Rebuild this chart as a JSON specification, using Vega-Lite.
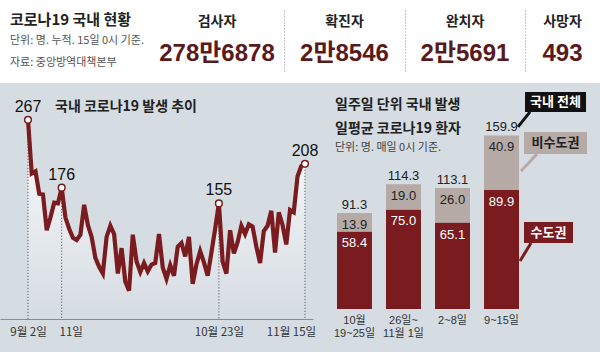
{
  "$schema": "https://vega.github.io/schema/vega-lite/v6.json",
  "background": "#d5dce2",
  "padding": {"left": 0, "top": 0, "right": 0, "bottom": 20},
  "spacing": 0,
  "config": {
    "view": {"stroke": null},
    "font": "Noto Sans CJK KR",
    "text": {"font": "Noto Sans CJK KR"},
    "axis": {"grid": false}
  },
  "datasets": {
    "stats": [
      {"stat": "검사자", "value": "278만6878"},
      {"stat": "확진자", "value": "2만8546"},
      {"stat": "완치자", "value": "2만5691"},
      {"stat": "사망자", "value": "493"}
    ],
    "daily": [
      {"date": "2020-09-02", "cases": 267}, {"date": "2020-09-03", "cases": 195}, {"date": "2020-09-04", "cases": 198},
      {"date": "2020-09-05", "cases": 168}, {"date": "2020-09-06", "cases": 167}, {"date": "2020-09-07", "cases": 119},
      {"date": "2020-09-08", "cases": 136}, {"date": "2020-09-09", "cases": 156}, {"date": "2020-09-10", "cases": 155},
      {"date": "2020-09-11", "cases": 176}, {"date": "2020-09-12", "cases": 136}, {"date": "2020-09-13", "cases": 121},
      {"date": "2020-09-14", "cases": 109}, {"date": "2020-09-15", "cases": 106}, {"date": "2020-09-16", "cases": 113},
      {"date": "2020-09-17", "cases": 153}, {"date": "2020-09-18", "cases": 126}, {"date": "2020-09-19", "cases": 110},
      {"date": "2020-09-20", "cases": 82}, {"date": "2020-09-21", "cases": 70}, {"date": "2020-09-22", "cases": 61},
      {"date": "2020-09-23", "cases": 110}, {"date": "2020-09-24", "cases": 125}, {"date": "2020-09-25", "cases": 114},
      {"date": "2020-09-26", "cases": 61}, {"date": "2020-09-27", "cases": 95}, {"date": "2020-09-28", "cases": 50},
      {"date": "2020-09-29", "cases": 38}, {"date": "2020-09-30", "cases": 113}, {"date": "2020-10-01", "cases": 77},
      {"date": "2020-10-02", "cases": 63}, {"date": "2020-10-03", "cases": 75}, {"date": "2020-10-04", "cases": 64},
      {"date": "2020-10-05", "cases": 73}, {"date": "2020-10-06", "cases": 75}, {"date": "2020-10-07", "cases": 114},
      {"date": "2020-10-08", "cases": 69}, {"date": "2020-10-09", "cases": 54}, {"date": "2020-10-10", "cases": 72},
      {"date": "2020-10-11", "cases": 58}, {"date": "2020-10-12", "cases": 97}, {"date": "2020-10-13", "cases": 102},
      {"date": "2020-10-14", "cases": 84}, {"date": "2020-10-15", "cases": 110}, {"date": "2020-10-16", "cases": 47},
      {"date": "2020-10-17", "cases": 73}, {"date": "2020-10-18", "cases": 91}, {"date": "2020-10-19", "cases": 76},
      {"date": "2020-10-20", "cases": 58}, {"date": "2020-10-21", "cases": 89}, {"date": "2020-10-22", "cases": 121},
      {"date": "2020-10-23", "cases": 155}, {"date": "2020-10-24", "cases": 77}, {"date": "2020-10-25", "cases": 61},
      {"date": "2020-10-26", "cases": 119}, {"date": "2020-10-27", "cases": 88}, {"date": "2020-10-28", "cases": 103},
      {"date": "2020-10-29", "cases": 125}, {"date": "2020-10-30", "cases": 114}, {"date": "2020-10-31", "cases": 127},
      {"date": "2020-11-01", "cases": 124}, {"date": "2020-11-02", "cases": 97}, {"date": "2020-11-03", "cases": 75},
      {"date": "2020-11-04", "cases": 118}, {"date": "2020-11-05", "cases": 125}, {"date": "2020-11-06", "cases": 145},
      {"date": "2020-11-07", "cases": 89}, {"date": "2020-11-08", "cases": 143}, {"date": "2020-11-09", "cases": 126},
      {"date": "2020-11-10", "cases": 100}, {"date": "2020-11-11", "cases": 146}, {"date": "2020-11-12", "cases": 143},
      {"date": "2020-11-13", "cases": 191}, {"date": "2020-11-14", "cases": 205}, {"date": "2020-11-15", "cases": 208}
    ],
    "weekly": [
      {"week": "10월 19~25일", "region": "수도권", "value": 58.4, "total": 91.3},
      {"week": "10월 19~25일", "region": "비수도권", "value": 13.9, "total": 91.3},
      {"week": "26일~11월 1일", "region": "수도권", "value": 75.0, "total": 114.3},
      {"week": "26일~11월 1일", "region": "비수도권", "value": 19.0, "total": 114.3},
      {"week": "2~8일", "region": "수도권", "value": 65.1, "total": 113.1},
      {"week": "2~8일", "region": "비수도권", "value": 26.0, "total": 113.1},
      {"week": "9~15일", "region": "수도권", "value": 89.9, "total": 159.9},
      {"week": "9~15일", "region": "비수도권", "value": 40.9, "total": 159.9}
    ]
  },
  "vconcat": [
    {
      "spacing": 0,
      "hconcat": [
        {
          "width": 150, "height": 83,
          "view": {"fill": "#ffffff", "stroke": null},
          "data": {"values": []},
          "mark": "text",
          "title": {
            "text": "코로나19 국내 현황",
            "subtitle": ["단위: 명. 누적. 15일 0시 기준.", "자료: 중앙방역대책본부"],
            "anchor": "start", "frame": "group", "dx": 10, "offset": -68,
            "font": "Noto Sans CJK KR", "fontSize": 15, "fontWeight": "bold", "color": "#222222",
            "subtitleFont": "Noto Sans CJK KR", "subtitleFontSize": 11, "subtitleColor": "#555555",
            "subtitlePadding": 7, "subtitleLineHeight": 22
          }
        },
        {
          "width": 134, "height": 83,
          "view": {"fill": "#ffffff", "stroke": null},
          "data": {"name": "stats"},
          "transform": [{"filter": "datum.stat == '검사자'"}],
          "encoding": {"y": {"field": "stat", "type": "nominal", "scale": {"range": [10, 72]}, "axis": null}},
          "layer": [
            {"mark": {"type": "text", "dy": -19, "fontSize": 14, "fontWeight": "bold", "color": "#222222"}, "encoding": {"text": {"field": "stat"}}},
            {"mark": {"type": "text", "dy": 13, "fontSize": 24, "fontWeight": "bold", "color": "#5a1a1c", "font": "'Liberation Sans', 'Noto Sans CJK KR', sans-serif"}, "encoding": {"text": {"field": "value"}}}
          ]
        },
        {
          "width": 121, "height": 83,
          "view": {"fill": "#ffffff", "stroke": null},
          "data": {"name": "stats"},
          "transform": [{"filter": "datum.stat == '확진자'"}],
          "encoding": {"y": {"field": "stat", "type": "nominal", "scale": {"range": [10, 72]}, "axis": {"orient": "left", "domainColor": "#8a8a8a", "domainDash": [1, 2], "labels": false, "ticks": false, "title": null}}},
          "layer": [
            {"mark": {"type": "text", "dy": -19, "fontSize": 14, "fontWeight": "bold", "color": "#222222"}, "encoding": {"text": {"field": "stat"}}},
            {"mark": {"type": "text", "dy": 13, "fontSize": 24, "fontWeight": "bold", "color": "#5a1a1c", "font": "'Liberation Sans', 'Noto Sans CJK KR', sans-serif"}, "encoding": {"text": {"field": "value"}}}
          ]
        },
        {
          "width": 120, "height": 83,
          "view": {"fill": "#ffffff", "stroke": null},
          "data": {"name": "stats"},
          "transform": [{"filter": "datum.stat == '완치자'"}],
          "encoding": {"y": {"field": "stat", "type": "nominal", "scale": {"range": [10, 72]}, "axis": {"orient": "left", "domainColor": "#8a8a8a", "domainDash": [1, 2], "labels": false, "ticks": false, "title": null}}},
          "layer": [
            {"mark": {"type": "text", "dy": -19, "fontSize": 14, "fontWeight": "bold", "color": "#222222"}, "encoding": {"text": {"field": "stat"}}},
            {"mark": {"type": "text", "dy": 13, "fontSize": 24, "fontWeight": "bold", "color": "#5a1a1c", "font": "'Liberation Sans', 'Noto Sans CJK KR', sans-serif"}, "encoding": {"text": {"field": "value"}}}
          ]
        },
        {
          "width": 75, "height": 83,
          "view": {"fill": "#ffffff", "stroke": null},
          "data": {"name": "stats"},
          "transform": [{"filter": "datum.stat == '사망자'"}],
          "encoding": {"y": {"field": "stat", "type": "nominal", "scale": {"range": [10, 72]}, "axis": {"orient": "left", "domainColor": "#8a8a8a", "domainDash": [1, 2], "labels": false, "ticks": false, "title": null}}},
          "layer": [
            {"mark": {"type": "text", "dy": -19, "fontSize": 14, "fontWeight": "bold", "color": "#222222"}, "encoding": {"text": {"field": "stat"}}},
            {"mark": {"type": "text", "dy": 13, "fontSize": 24, "fontWeight": "bold", "color": "#5a1a1c", "font": "'Liberation Sans', 'Noto Sans CJK KR', sans-serif"}, "encoding": {"text": {"field": "value"}}}
          ]
        }
      ]
    },
    {
      "spacing": 3,
      "hconcat": [
        {
          "width": 313, "height": 236,
          "data": {"name": "daily"},
          "title": {
            "text": "국내 코로나19 발생 추이",
            "anchor": "start", "frame": "group", "dx": 55, "offset": -31,
            "font": "Noto Sans CJK KR", "fontSize": 14, "fontWeight": "bold", "color": "#222222"
          },
          "encoding": {
            "x": {
              "field": "date", "type": "temporal",
              "scale": {"type": "utc", "nice": false, "domain": [
                {"year": 2020, "month": 8, "date": 25, "hours": 12, "minutes": 30, "utc": true},
                {"year": 2020, "month": 11, "date": 17, "hours": 3, "minutes": 20, "utc": true}
              ]},
              "axis": {
                "values": [
                  {"year": 2020, "month": 9, "date": 2, "utc": true},
                  {"year": 2020, "month": 9, "date": 11, "utc": true},
                  {"year": 2020, "month": 10, "date": 23, "utc": true},
                  {"year": 2020, "month": 11, "date": 15, "utc": true}
                ],
                "labelExpr": "utcdate(datum.value) == 11 && utcmonth(datum.value) == 8 ? '11일' : utcFormat(datum.value, '%-m월 %-d일')",
                "labelOffset": {"condition": [
                  {"test": "utcdate(datum.value) == 11", "value": 9},
                  {"test": "utcdate(datum.value) == 15", "value": -14}
                ], "value": 0},
                "labelFlush": false,
                "ticks": false, "grid": false, "title": null,
                "domainColor": "#8c8c8c", "labelFontSize": 11.5, "labelColor": "#333333",
                "labelPadding": 7, "labelFont": "Noto Sans CJK KR"
              }
            },
            "y": {"field": "cases", "type": "quantitative", "scale": {"domain": [0, 316.4], "nice": false}, "axis": null}
          },
          "layer": [
            {"mark": {"type": "area", "opacity": 0.9, "color": {"gradient": "linear", "x1": 0, "y1": 0, "x2": 0, "y2": 1, "stops": [{"offset": 0, "color": "#ffffff"}, {"offset": 1, "color": "#d5dce2"}]}}},
            {
              "transform": [{"filter": "indexof(['09-02','09-11','10-23','11-15'], utcFormat(datum.date, '%m-%d')) >= 0"}],
              "mark": {"type": "rule", "color": "#444444", "strokeDash": [1, 2], "strokeWidth": 1},
              "encoding": {"y2": {"datum": 0}}
            },
            {"mark": {"type": "line", "color": "#7a1c1f", "strokeWidth": 4.2}},
            {
              "transform": [{"filter": "indexof(['09-02','09-11','10-23','11-15'], utcFormat(datum.date, '%m-%d')) >= 0"}],
              "mark": {"type": "point", "filled": true, "fill": "#ffffff", "stroke": "#7a1c1f", "strokeWidth": 1.5, "size": 45, "opacity": 1}
            },
            {
              "transform": [{"filter": "indexof(['09-02','09-11','10-23','11-15'], utcFormat(datum.date, '%m-%d')) >= 0"}],
              "mark": {"type": "text", "dy": -13, "fontSize": 16, "color": "#111111", "font": "'Liberation Sans', sans-serif"},
              "encoding": {"text": {"field": "cases"}}
            },
            {
              "data": {"values": [{"unit": "단위: 명"}]},
              "mark": {"type": "text", "align": "left", "baseline": "middle", "fontSize": 11, "color": "#333333"},
              "encoding": {
                "x": {"datum": {"year": 2020, "month": 10, "date": 21, "hours": 10, "utc": true}, "type": "temporal"},
                "y": {"datum": 283, "type": "quantitative", "axis": null},
                "text": {"field": "unit"}
              }
            }
          ]
        },
        {
          "width": 212, "height": 226,
          "data": {"name": "weekly"},
          "title": {
            "text": ["일주일 단위 국내 발생", "일평균 코로나19 환자"],
            "subtitle": "단위: 명. 매일 0시 기준.",
            "anchor": "start", "frame": "group", "dx": 13, "offset": -70,
            "font": "Noto Sans CJK KR", "fontSize": 14, "fontWeight": "bold", "color": "#222222", "lineHeight": 24,
            "subtitleFont": "Noto Sans CJK KR", "subtitleFontSize": 11, "subtitleColor": "#444444", "subtitlePadding": 6
          },
          "encoding": {
            "x": {
              "field": "week", "type": "nominal", "sort": null,
              "scale": {"paddingInner": 0.286, "paddingOuter": 0.306},
              "axis": {
                "labelExpr": "datum.label == '26일~11월 1일' ? ['26일~', '11월 1일'] : split(datum.label, ' ')",
                "labelAngle": 0, "domain": false, "ticks": false, "title": null,
                "labelFontSize": 11, "labelColor": "#333333", "labelPadding": 5, "labelLineHeight": 13,
                "labelFont": "'Liberation Sans', 'Noto Sans CJK KR', sans-serif"
              }
            }
          },
          "layer": [
            {
              "mark": {"type": "bar"},
              "encoding": {
                "y": {"field": "value", "type": "quantitative", "stack": "zero", "scale": {"domain": [0, 170.3], "nice": false}, "axis": null},
                "color": {"field": "region", "type": "nominal", "scale": {"domain": ["수도권", "비수도권"], "range": ["#7a1c1f", "#b5aaa6"]}, "legend": null},
                "order": {"field": "region", "sort": "descending"}
              }
            },
            {
              "mark": {"type": "text", "dy": 12, "fontSize": 13, "font": "'Liberation Sans', sans-serif", "baseline": "middle"},
              "encoding": {
                "y": {"field": "value", "type": "quantitative", "stack": "zero", "scale": {"domain": [0, 170.3], "nice": false}, "axis": null},
                "detail": {"field": "region"},
                "order": {"field": "region", "sort": "descending"},
                "text": {"field": "value", "type": "quantitative", "format": ".1f"},
                "color": {"condition": {"test": "datum.region == '수도권'", "value": "#ffffff"}, "value": "#222222"}
              }
            },
            {
              "mark": {"type": "text", "dy": -8, "fontSize": 13, "font": "'Liberation Sans', sans-serif", "baseline": "middle", "color": "#222222"},
              "encoding": {
                "y": {"field": "value", "type": "quantitative", "stack": "zero", "scale": {"domain": [0, 170.3], "nice": false}, "axis": null},
                "detail": {"field": "region"},
                "order": {"field": "region", "sort": "descending"},
                "text": {"condition": {"test": "datum.region == '비수도권'", "field": "total", "type": "quantitative", "format": ".1f"}, "value": ""}
              }
            },
            {
              "transform": [{"filter": "datum.week == '9~15일' && datum.region == '수도권'"}],
              "mark": {"type": "rule", "color": "#111111", "strokeWidth": 3, "xOffset": 28.5, "x2Offset": 16.5},
              "encoding": {
                "x2": {"field": "week"},
                "y": {"datum": 148.5, "type": "quantitative", "scale": {"domain": [0, 170.3], "nice": false}, "axis": null},
                "y2": {"datum": 137.2}
              }
            },
            {
              "transform": [{"filter": "datum.week == '9~15일' && datum.region == '수도권'"}],
              "mark": {"type": "bar", "color": "#111111", "width": 61, "xOffset": 54},
              "encoding": {
                "y": {"datum": 163.5, "type": "quantitative", "scale": {"domain": [0, 170.3], "nice": false}, "axis": null},
                "y2": {"datum": 148.5}
              }
            },
            {
              "transform": [{"filter": "datum.week == '9~15일' && datum.region == '수도권'"}],
              "mark": {"type": "text", "dx": 54, "fontSize": 13, "fontWeight": "bold", "color": "#ffffff", "baseline": "middle"},
              "encoding": {
                "y": {"datum": 156, "type": "quantitative", "scale": {"domain": [0, 170.3], "nice": false}, "axis": null},
                "text": {"value": "국내 전체"}
              }
            },
            {
              "transform": [{"filter": "datum.week == '9~15일' && datum.region == '비수도권'"}],
              "mark": {"type": "rule", "color": "#b5aaa6", "strokeWidth": 3, "xOffset": 35.5, "x2Offset": 19.5},
              "encoding": {
                "x2": {"field": "week"},
                "y": {"datum": 116.8, "type": "quantitative", "scale": {"domain": [0, 170.3], "nice": false}, "axis": null},
                "y2": {"datum": 104}
              }
            },
            {
              "transform": [{"filter": "datum.week == '9~15일' && datum.region == '비수도권'"}],
              "mark": {"type": "bar", "color": "#b5aaa6", "width": 63, "xOffset": 54},
              "encoding": {
                "y": {"datum": 133.4, "type": "quantitative", "scale": {"domain": [0, 170.3], "nice": false}, "axis": null},
                "y2": {"datum": 116.8}
              }
            },
            {
              "transform": [{"filter": "datum.week == '9~15일' && datum.region == '비수도권'"}],
              "mark": {"type": "text", "dx": 54, "fontSize": 13, "fontWeight": "bold", "color": "#222222", "baseline": "middle"},
              "encoding": {
                "y": {"datum": 125.1, "type": "quantitative", "scale": {"domain": [0, 170.3], "nice": false}, "axis": null},
                "text": {"field": "region"}
              }
            },
            {
              "transform": [{"filter": "datum.week == '9~15일' && datum.region == '수도권'"}],
              "mark": {"type": "rule", "color": "#7a1c1f", "strokeWidth": 3, "xOffset": 29.5, "x2Offset": 18.5},
              "encoding": {
                "x2": {"field": "week"},
                "y": {"datum": 49.7, "type": "quantitative", "scale": {"domain": [0, 170.3], "nice": false}, "axis": null},
                "y2": {"datum": 36.2}
              }
            },
            {
              "transform": [{"filter": "datum.week == '9~15일' && datum.region == '수도권'"}],
              "mark": {"type": "bar", "color": "#7a1c1f", "width": 49, "xOffset": 47},
              "encoding": {
                "y": {"datum": 65.6, "type": "quantitative", "scale": {"domain": [0, 170.3], "nice": false}, "axis": null},
                "y2": {"datum": 49.7}
              }
            },
            {
              "transform": [{"filter": "datum.week == '9~15일' && datum.region == '수도권'"}],
              "mark": {"type": "text", "dx": 47, "fontSize": 13, "fontWeight": "bold", "color": "#ffffff", "baseline": "middle"},
              "encoding": {
                "y": {"datum": 57.6, "type": "quantitative", "scale": {"domain": [0, 170.3], "nice": false}, "axis": null},
                "text": {"field": "region"}
              }
            }
          ]
        }
      ]
    }
  ]
}
